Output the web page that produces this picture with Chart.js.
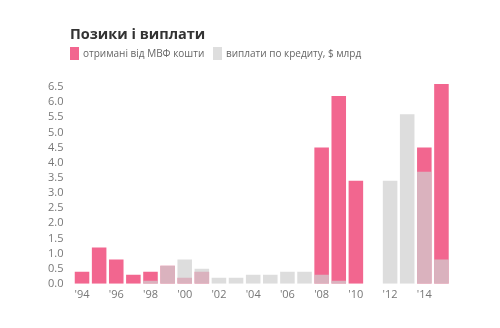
<!DOCTYPE html>
<html>
<head>
<meta charset="utf-8">
<script src="https://cdn.jsdelivr.net/npm/chart.js@4.4.1/dist/chart.umd.min.js"></script>
<style>
    body { margin: 0; background: #fff; }
    #wrap { position: relative; width: 500px; height: 328px; font-family: 'Open Sans', sans-serif; }
    #chart { position: absolute; left: 0; top: 0; }
    .title { position: absolute; left: 70px; top: 24px; font-size: 14.5px; font-weight: 700; color: #333; }
    .legend { position: absolute; left: 70px; top: 46px; font-size: 10px; color: #666; }
    .legend .item { position: absolute; top: 0; white-space: nowrap; }
    .legend .box { position: absolute; left: 0; top: 1px; width: 9px; height: 13px; }
    .legend .label { position: absolute; left: 13px; top: 0; line-height: 15px; }
</style>
</head>
<body>
<div id="wrap">
    <canvas id="chart" width="500" height="328"></canvas>
    <div class="title">Позики і виплати</div>
    <div class="legend">
        <div class="item" style="left:0"><span class="box" style="background:#f2668f"></span><span class="label">отримані від МВФ кошти</span></div>
        <div class="item" style="left:143px"><span class="box" style="background:#dedede"></span><span class="label">виплати по кредиту, $ млрд</span></div>
    </div>
</div>
<script>
const years = ['94', '95', '96', '97', '98', '99', '00', '01', '02', '03', '04',
    '05', '06', '07', '08', '09', '10', '11', '12', '13', '14', '15'];
// отримані від МВФ кошти
const received = [0.4, 1.2, 0.8, 0.3, 0.4, 0.6, 0.2, 0.4, 0, 0, 0,
    0, 0, 0, 4.5, 6.2, 3.4, 0, 0, 0, 4.5, 6.6];
// виплати по кредиту
const payments = [0, 0, 0, 0, 0.1, 0.6, 0.8, 0.5, 0.2, 0.2, 0.3,
    0.3, 0.4, 0.4, 0.3, 0.1, 0, 0, 3.4, 5.6, 3.7, 0.8];
const yTicks = [0, 0.5, 1, 1.5, 2, 2.5, 3, 3.5, 4, 4.5, 5, 5.5, 6, 6.5];

document.addEventListener('DOMContentLoaded', function () {
    const ctx = document.getElementById('chart').getContext('2d');

    new Chart(ctx, {
        type: 'bar',
        data: {
            labels: years,
            datasets: [
                {
                    // gray drawn on top of pink, semi transparent
                    label: 'виплати по кредиту, $ млрд',
                    data: payments,
                    backgroundColor: 'rgba(208, 208, 208, 0.72)',
                    order: 0
                },
                {
                    label: 'отримані від МВФ кошти',
                    data: received,
                    backgroundColor: '#f2668f',
                    order: 1
                }
            ]
        },
        options: {
            responsive: false,
            animation: false,
            devicePixelRatio: 1,
            layout: {
                padding: { left: 38, right: 50, top: 84, bottom: 23 }
            },
            datasets: {
                bar: {
                    grouped: false,
                    categoryPercentage: 1,
                    barPercentage: 0.85,
                    borderWidth: 0
                }
            },
            plugins: {
                legend: { display: false },
                title: { display: false },
                tooltip: { enabled: false }
            },
            scales: {
                x: {
                    grid: { display: false, drawTicks: false },
                    border: { display: false },
                    ticks: {
                        autoSkip: false,
                        maxRotation: 0,
                        padding: 4,
                        color: '#777',
                        font: { family: 'Open Sans', size: 11 },
                        callback: function (value, index) {
                            return index % 2 === 0 ? "'" + years[index] : '';
                        }
                    }
                },
                y: {
                    min: 0,
                    max: 6.6,
                    grid: { display: false, drawTicks: false },
                    border: { display: false },
                    afterBuildTicks: function (axis) {
                        axis.ticks = yTicks.map(v => ({ value: v }));
                    },
                    ticks: {
                        autoSkip: false,
                        padding: 10,
                        color: '#777',
                        font: { family: 'Open Sans', size: 11 },
                        callback: function (value) {
                            return Number(value).toFixed(1);
                        }
                    }
                }
            }
        }
    });
});
</script>
</body>
</html>
